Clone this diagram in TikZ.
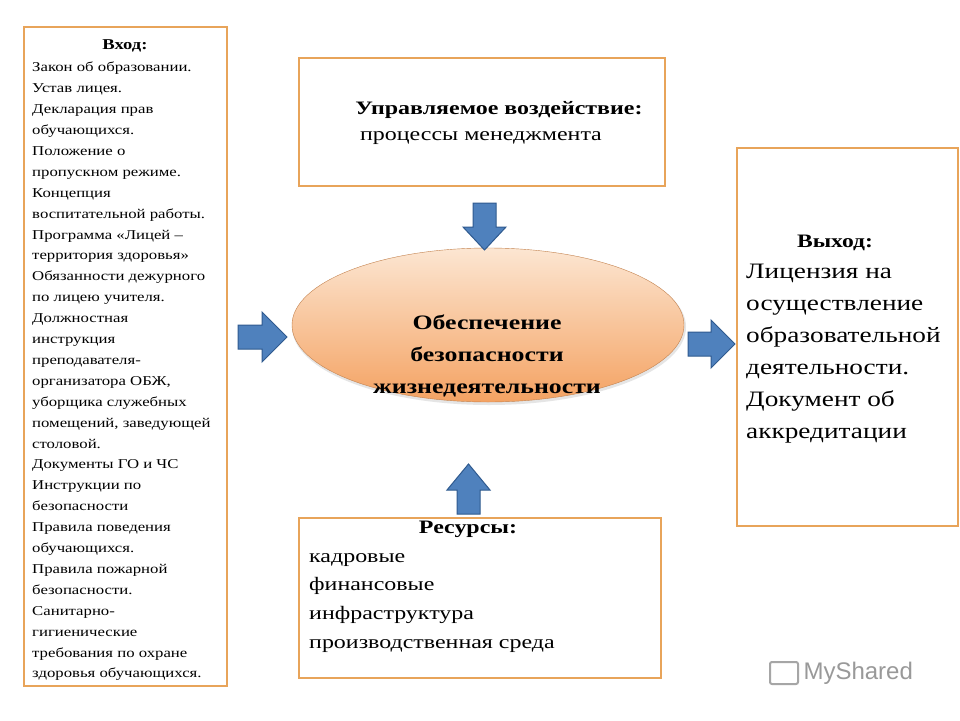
\documentclass[tikz,border=0pt]{standalone}
\usepackage{fontspec}
\setmainfont{Liberation Serif}
\setsansfont{Liberation Sans}
\newfontfamily\wideA[FakeStretch=1.24]{Liberation Serif}
\newfontfamily\wideB[FakeStretch=1.26]{Liberation Serif}
\usetikzlibrary{shapes.geometric}
\definecolor{ob}{HTML}{E8A45A}
\definecolor{ab}{HTML}{4F81BD}
\definecolor{abd}{HTML}{2F5A8F}
\definecolor{el1}{HTML}{FCE6D2}
\definecolor{el2}{HTML}{F4A262}
\tikzset{frame/.style={draw=ob,line width=2pt,fill=white},
 barrow/.style={fill=ab,draw=abd,line width=1pt,line join=miter},
 tx/.style={anchor=north west,align=left,inner sep=0pt}}
\begin{document}
\begin{tikzpicture}[x=1pt,y=-1pt]
\useasboundingbox (0,0) rectangle (960,720);
\fill[white] (0,0) rectangle (960,720);
% boxes
\draw[frame] (24,27) rectangle (227,686);
\draw[frame] (299,58) rectangle (665,186);
\draw[frame] (737,148) rectangle (958,526);
\draw[frame] (299,518) rectangle (661,678);
% ellipse
\fill[gray!20] (489,327) ellipse [x radius=197,y radius=78];
\shade[top color=el1,bottom color=el2,draw=el2!80!black,line width=0.4pt] (488,325) ellipse [x radius=196,y radius=77];
\node[align=center,font=\wideB\fontsize{20.5}{32}\selectfont\bfseries] (c) at (487,356) {Обеспечение\\безопасности\\жизнедеятельности};
% arrows
\draw[barrow] (238,325)--(262,325)--(262,312)--(287,337)--(262,362)--(262,349)--(238,349)--cycle;
\draw[barrow] (688,332)--(711,332)--(711,320)--(735,344)--(711,368)--(711,356)--(688,356)--cycle;
\draw[barrow] (473,203)--(496,203)--(496,227)--(506,227)--(484.5,250)--(463,227)--(473,227)--cycle;
\draw[barrow] (457,514)--(480,514)--(480,490)--(490,490)--(468.5,464)--(447,490)--(457,490)--cycle;
% left text
\node[font=\wideA\fontsize{15}{18}\selectfont\bfseries] (inT) at (125,46) {Вход:};
\node[tx,font=\wideA\fontsize{13.5}{20.9}\selectfont] (inB) at (32,62) {Закон об образовании.\\Устав лицея.\\Декларация прав\\обучающихся.\\Положение о\\пропускном режиме.\\Концепция\\воспитательной работы.\\Программа «Лицей –\\территория здоровья»\\Обязанности дежурного\\по лицею учителя.\\Должностная\\инструкция\\преподавателя-\\организатора ОБЖ,\\уборщика служебных\\помещений, заведующей\\столовой.\\Документы ГО и ЧС\\Инструкции по\\безопасности\\Правила поведения\\обучающихся.\\Правила пожарной\\безопасности.\\Санитарно-\\гигиенические\\требования по охране\\здоровья обучающихся.};
% top text
\node[font=\wideB\fontsize{19}{22}\selectfont\bfseries] (upT) at (499,110) {Управляемое воздействие:};
\node[font=\wideB\fontsize{19}{22}\selectfont] (upB) at (481,138) {процессы менеджмента};
% right text
\node[font=\wideA\fontsize{19}{22}\selectfont\bfseries] (outT) at (835,243) {Выход:};
\node[tx,font=\wideA\fontsize{22}{32}\selectfont] (outB) at (746,264) {Лицензия на\\осуществление\\образовательной\\деятельности.\\Документ об\\аккредитации};
% bottom text
\node[font=\wideB\fontsize{19}{22}\selectfont\bfseries] (resT) at (468,529) {Ресурсы:};
\node[tx,font=\wideB\fontsize{19}{28.7}\selectfont] (resB) at (309,553) {кадровые\\финансовые\\инфраструктура\\производственная среда};
% logo
\draw[gray!70,line width=2pt,rounded corners=2pt] (770,662) rectangle (798,684);
\node[anchor=west,text=gray!80,font=\sffamily\fontsize{24}{28}\selectfont] (logo) at (800,673) {MyShared};
\end{tikzpicture}
\end{document}
